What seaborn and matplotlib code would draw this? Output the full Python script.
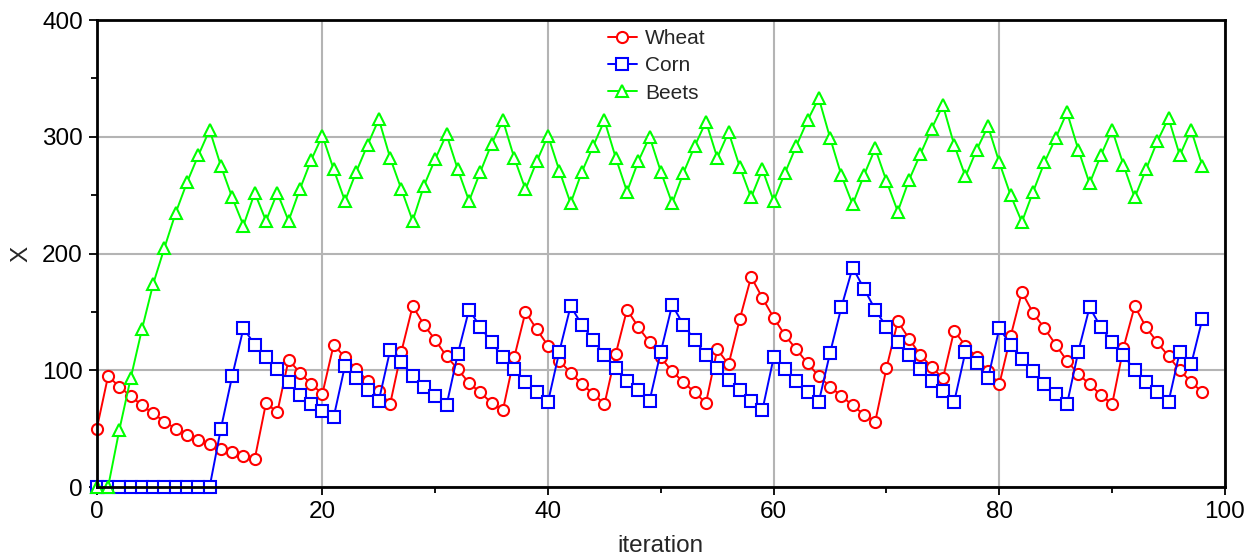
import matplotlib
matplotlib.use("Agg")
import matplotlib.pyplot as plt
import seaborn as sns
import numpy as np
import pandas as pd
from matplotlib.ticker import MultipleLocator

# values, one per iteration 0..98
iteration = list(range(99))
wheat = [50, 95, 86, 78, 70, 63, 56, 50, 45, 40,
         37, 33, 30, 27, 24, 72, 64, 109, 98, 88,
         80, 122, 111, 101, 91, 82, 71, 116, 155, 139,
         126, 112, 101, 89, 81, 72, 66, 111, 150, 135,
         121, 108, 98, 88, 80, 71, 114, 152, 137, 124,
         111, 99, 90, 81, 72, 118, 105, 144, 180, 162,
         145, 130, 118, 106, 95, 86, 78, 70, 62, 56,
         102, 142, 127, 113, 103, 93, 134, 121, 111, 99,
         88, 129, 167, 149, 136, 122, 108, 97, 88, 79,
         71, 119, 155, 137, 124, 112, 100, 90, 81]
corn = [0, 0, 0, 0, 0, 0, 0, 0, 0, 0,
        0, 50, 95, 136, 122, 111, 101, 90, 79, 71,
        65, 60, 104, 93, 83, 74, 117, 107, 95, 86,
        78, 70, 114, 152, 137, 124, 111, 101, 90, 81,
        73, 116, 155, 139, 126, 113, 102, 91, 83, 74,
        116, 156, 139, 126, 113, 102, 92, 83, 74, 66,
        111, 101, 91, 81, 73, 115, 154, 188, 170, 152,
        137, 124, 113, 101, 91, 82, 73, 116, 106, 93,
        136, 122, 110, 99, 88, 80, 71, 116, 154, 137,
        124, 113, 100, 90, 81, 73, 116, 105, 144]
beets = [0, 0, 49, 93, 135, 174, 205, 235, 261, 284,
         306, 275, 248, 224, 252, 228, 252, 228, 255, 280,
         301, 272, 245, 270, 293, 315, 282, 255, 228, 258,
         281, 302, 272, 245, 270, 294, 314, 282, 255, 279,
         301, 271, 243, 270, 292, 314, 282, 253, 279, 300,
         270, 243, 269, 292, 313, 282, 304, 274, 248, 272,
         245, 269, 292, 314, 333, 299, 267, 242, 267, 290,
         262, 236, 263, 285, 307, 327, 293, 266, 289, 309,
         278, 250, 227, 253, 278, 299, 321, 289, 260, 284,
         306, 276, 248, 272, 296, 316, 284, 306, 275]

crops = ["Wheat", "Corn", "Beets"]
colors = {"Wheat": "#ff0000", "Corn": "#0000ff", "Beets": "#00ff00"}
markers = {"Wheat": "o", "Corn": "s", "Beets": "^"}
msizes = {"Wheat": 8, "Corn": 8.5, "Beets": 8.5}

df = pd.DataFrame({
    "iteration": iteration * 3,
    "X": wheat + corn + beets,
    "crop": np.repeat(crops, len(iteration)),
})

sns.set_style("white")
plt.rcParams["font.family"] = ["Liberation Sans", "DejaVu Sans"]

fig = plt.figure(figsize=(12.57, 5.56), dpi=100)
ax = fig.add_axes([0.077, 0.124, 0.8975, 0.840])

for crop in crops:
    sns.lineplot(data=df[df.crop == crop], x="iteration", y="X",
                 color=colors[crop], marker=markers[crop], ms=msizes[crop],
                 mfc="white", mec=colors[crop], mew=1.5, lw=1.4,
                 label=crop, ax=ax, clip_on=False)

ax.set_xlim(0, 100)
ax.set_ylim(0, 400)
ax.xaxis.set_major_locator(MultipleLocator(20))
ax.xaxis.set_minor_locator(MultipleLocator(10))
ax.yaxis.set_major_locator(MultipleLocator(100))
ax.yaxis.set_minor_locator(MultipleLocator(50))
ax.grid(True, which="major", color="#b4b4b4", lw=1.5)
ax.set_axisbelow(True)

for s in ax.spines.values():
    s.set_color("black")
    s.set_linewidth(2)

ax.tick_params(which="both", bottom=True, left=True, direction="out",
               color="black", width=1.3, labelsize=17.5, labelcolor="black")
ax.tick_params(which="major", length=6, pad=4)
ax.tick_params(which="minor", length=4)

ax.set_xlabel("iteration", fontsize=17.5, labelpad=9)
ax.set_ylabel("X", fontsize=17.5, labelpad=7)

ax.legend(loc="upper left", bbox_to_anchor=(0.44, 1.012), frameon=False,
          fontsize=15, handlelength=1.4, handletextpad=0.4,
          labelspacing=0.4, borderpad=0.2)

fig.savefig("out.png", dpi=100)
